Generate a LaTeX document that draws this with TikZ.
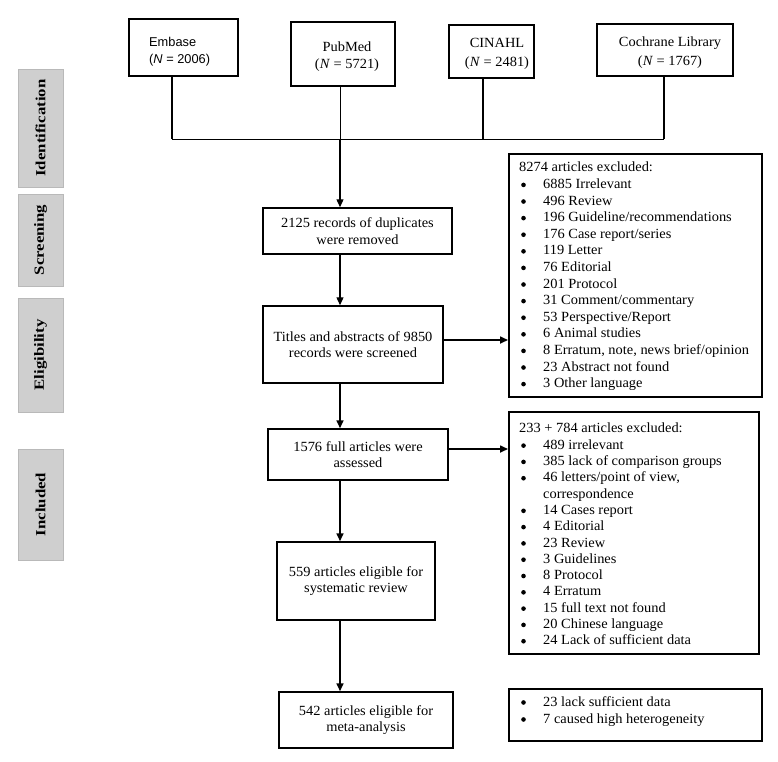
\documentclass[tikz,border=0pt]{standalone}
\usepackage{fontspec}
\setmainfont[FakeStretch=1.03]{Liberation Serif}
\newfontfamily\sansf{Liberation Sans}
\newfontfamily\lblf[FakeStretch=1.2]{Liberation Serif}
\usetikzlibrary{arrows.meta}
\newcommand{\itemdot}{\hspace*{2pt}\makebox[22pt][l]{\tikz[baseline=0pt]\fill (2.6pt,3.6pt) circle[radius=2.3pt];}}
\begin{document}
\begin{tikzpicture}[x=1pt,y=-1pt,
  box/.style={draw, line width=1.5pt, inner sep=0pt, align=center, font=\fontsize{14}{16.6}\selectfont},
  dbbox/.style={draw, line width=1.5pt, inner sep=0pt},
  dbtext/.style={inner sep=0pt, align=center, font=\fontsize{14}{19}\selectfont},
  lbl/.style={draw=gray!55, fill={rgb,255:red,207;green,207;blue,207}, rotate=90, inner sep=0pt, font=\lblf\bfseries\fontsize{14}{16}\selectfont},
  conn/.style={line width=1pt},
  connb/.style={line width=1.4pt},
  arr/.style={line width=1.6pt, -{Triangle[length=8pt,width=7pt]}},
  lst/.style={anchor=north west, inner sep=0pt, align=left},
  exbox/.style={draw, line width=1.5pt, inner sep=0pt, anchor=north west}
]
\useasboundingbox (0,0) rectangle (778,761);

% side labels
\node[lbl, minimum width=118pt, minimum height=45pt] (sId) at (40.5,128) {Identification};
\node[lbl, minimum width=92pt, minimum height=45pt] (sSc) at (40.5,240) {Screening};
\node[lbl, minimum width=114pt, minimum height=45pt] (sEl) at (40.5,355) {Eligibility};
\node[lbl, minimum width=111pt, minimum height=45pt] (sIn) at (40.5,504.5) {Included};

% databases
\node[dbbox, minimum width=109pt, minimum height=57pt] (emb) at (183.5,47.5) {};
\node[dbtext, anchor=west, align=left, font=\sansf\fontsize{12.8}{17}\selectfont] (embT) at (149,52) {Embase\\(\textit{N} = 2006)};
\node[dbbox, minimum width=104pt, minimum height=64pt] (pub) at (343,54) {};
\node[dbtext, font=\fontsize{14}{17}\selectfont] (pubT) at (347,57) {PubMed\\(\textit{N} = 5721)};
\node[dbbox, minimum width=85pt, minimum height=53pt] (cin) at (491.5,51.5) {};
\node[dbtext] (cinT) at (497,54) {CINAHL\\(\textit{N} = 2481)};
\node[dbbox, minimum width=136pt, minimum height=52pt] (coc) at (665,50) {};
\node[dbtext] (cocT) at (670,53) {Cochrane Library\\(\textit{N} = 1767)};

% main column
\node[box, minimum width=189pt, minimum height=46pt] (dup) at (357.5,231) {2125 records of duplicates\\were removed};
\node[box, minimum width=180pt, minimum height=77pt] (tit) at (353,344.5) {Titles and abstracts of 9850\\records were screened};
\node[box, minimum width=180pt, minimum height=51pt] (full) at (358,454.5) {1576 full articles were\\assessed};
\node[box, minimum width=158pt, minimum height=78pt] (sys) at (356,581) {559 articles eligible for\\systematic review};
\node[box, minimum width=174pt, minimum height=56pt] (meta) at (366,720) {542 articles eligible for\\meta-analysis};

% junction line
\coordinate (jE) at (172,139);
\coordinate (jP) at (340,139);
\coordinate (jC) at (483,139);
\coordinate (jL) at (664,139);
\draw[conn] (jE) -- (jL);
\draw[connb] (emb.south -| jE) -- (jE);
\draw[conn] (pub.south -| jP) -- (jP);
\draw[connb] (cin.south -| jC) -- (jC);
\draw[connb] (coc.south -| jL) -- (jL);

% vertical arrows
\draw[arr, line width=1.3pt] (jP) -- (jP |- dup.north);
\draw[arr, line width=1.3pt] (dup.south -| jP) -- (tit.north -| jP);
\draw[arr] (tit.south -| jP) -- (full.north -| jP);
\draw[arr] (full.south -| jP) -- (sys.north -| jP);
\draw[arr] (sys.south -| jP) -- (meta.north -| jP);

% exclusion boxes
\node[exbox, minimum width=253pt, minimum height=243pt] (ex1) at (508,153) {};
\node[lst, font=\fontsize{14}{16.6}\selectfont] (ex1t) at (519,162) {8274 articles excluded:\\
\itemdot 6885 Irrelevant\\
\itemdot 496 Review\\
\itemdot 196 Guideline/recommendations\\
\itemdot 176 Case report/series\\
\itemdot 119 Letter\\
\itemdot 76 Editorial\\
\itemdot 201 Protocol\\
\itemdot 31 Comment/commentary\\
\itemdot 53 Perspective/Report\\
\itemdot 6 Animal studies\\
\itemdot 8 Erratum, note, news brief/opinion\\
\itemdot 23 Abstract not found\\
\itemdot 3 Other language};

\node[exbox, minimum width=250pt, minimum height=242pt] (ex2) at (508,411) {};
\node[lst, font=\fontsize{14}{16.3}\selectfont] (ex2t) at (519,423) {233 + 784 articles excluded:\\
\itemdot 489 irrelevant\\
\itemdot 385 lack of comparison groups\\
\itemdot 46 letters/point of view,\\
\hspace*{24pt}correspondence\\
\itemdot 14 Cases report\\
\itemdot 4 Editorial\\
\itemdot 23 Review\\
\itemdot 3 Guidelines\\
\itemdot 8 Protocol\\
\itemdot 4 Erratum\\
\itemdot 15 full text not found\\
\itemdot 20 Chinese language\\
\itemdot 24 Lack of sufficient data};

\node[exbox, minimum width=253pt, minimum height=52pt] (ex3) at (508,688) {};
\node[lst, font=\fontsize{14}{17}\selectfont] (ex3t) at (519,696) {\itemdot 23 lack sufficient data\\
\itemdot 7 caused high heterogeneity};

% horizontal arrows
\draw[arr] ([yshift=4.5pt]tit.east) -- ([yshift=4.5pt]tit.east -| ex1.west);
\draw[arr] ([yshift=5.5pt]full.east) -- ([yshift=5.5pt]full.east -| ex2.west);
\end{tikzpicture}
\end{document}
